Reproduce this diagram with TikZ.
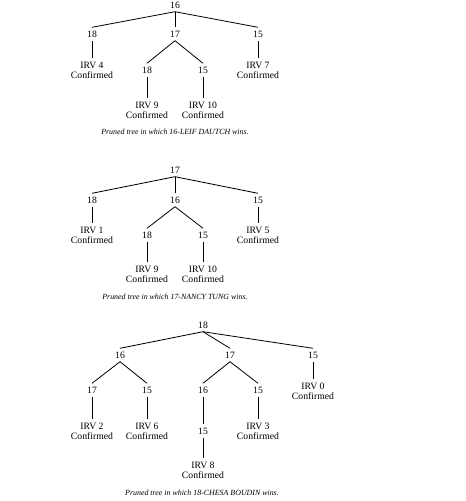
\documentclass[tikz,border=0pt]{standalone}
\usepackage{fontspec}
\setmainfont{Liberation Serif}
\begin{document}
\begin{tikzpicture}[x=1pt,y=-1pt,
  lab/.style={font=\fontsize{9.7}{10}\selectfont, inner xsep=1pt, inner ysep=3.2pt, text height=6.6pt, text depth=0pt},
  leaf/.style={font=\fontsize{9.7}{10}\selectfont, align=center, inner xsep=1pt, inner ysep=3.2pt},
  captxt/.style={font=\fontsize{7.9}{9}\selectfont\itshape, inner sep=0pt},
  conn/.style={line width=0.8pt}]
\useasboundingbox (0,0) rectangle (466,501);
% ---------- Tree 1 ----------
\node[lab] (t1r) at (175,5) {16};
\node[lab] (t1a) at (92,34) {18};
\node[lab] (t1b) at (175,34) {17};
\node[lab] (t1c) at (258,34) {15};
\node[leaf] (t1a1) at (92,70) {IRV 4\\Confirmed};
\node[lab] (t1b1) at (147,70) {18};
\node[lab] (t1b2) at (203,70) {15};
\node[leaf] (t1c1) at (258,70) {IRV 7\\Confirmed};
\node[leaf] (t1b11) at (147,110) {IRV 9\\Confirmed};
\node[leaf] (t1b21) at (203,110) {IRV 10\\Confirmed};
\node[captxt] (t1cap) at (175,132) {Pruned tree in which 16-LEIF DAUTCH wins.};
\draw[conn] (t1r.south) -- (t1a.north);
\draw[conn] (t1r.south) -- (t1b.north);
\draw[conn] (t1r.south) -- (t1c.north);
\draw[conn] (t1a.south) -- (t1a1.north);
\draw[conn] (t1b.south) -- (t1b1.north);
\draw[conn] (t1b.south) -- (t1b2.north);
\draw[conn] (t1c.south) -- (t1c1.north);
\draw[conn] (t1b1.south) -- (t1b11.north);
\draw[conn] (t1b2.south) -- (t1b21.north);
% ---------- Tree 2 ----------
\node[lab] (t2r) at (175,170) {17};
\node[lab] (t2a) at (92,200) {18};
\node[lab] (t2b) at (175,200) {16};
\node[lab] (t2c) at (258,200) {15};
\node[leaf] (t2a1) at (92,235) {IRV 1\\Confirmed};
\node[lab] (t2b1) at (147,235) {18};
\node[lab] (t2b2) at (203,235) {15};
\node[leaf] (t2c1) at (258,235) {IRV 5\\Confirmed};
\node[leaf] (t2b11) at (147,274) {IRV 9\\Confirmed};
\node[leaf] (t2b21) at (203,274) {IRV 10\\Confirmed};
\node[captxt] (t2cap) at (175,297) {Pruned tree in which 17-NANCY TUNG wins.};
\draw[conn] (t2r.south) -- (t2a.north);
\draw[conn] (t2r.south) -- (t2b.north);
\draw[conn] (t2r.south) -- (t2c.north);
\draw[conn] (t2a.south) -- (t2a1.north);
\draw[conn] (t2b.south) -- (t2b1.north);
\draw[conn] (t2b.south) -- (t2b2.north);
\draw[conn] (t2c.south) -- (t2c1.north);
\draw[conn] (t2b1.south) -- (t2b11.north);
\draw[conn] (t2b2.south) -- (t2b21.north);
% ---------- Tree 3 ----------
\node[lab] (t3r) at (203,325) {18};
\node[lab] (t3a) at (120,355) {16};
\node[lab] (t3b) at (230,355) {17};
\node[lab] (t3c) at (313,355) {15};
\node[leaf] (t3c1) at (313,391) {IRV 0\\Confirmed};
\node[lab] (t3a1) at (92,390) {17};
\node[lab] (t3a2) at (147,390) {15};
\node[lab] (t3b1) at (203,390) {16};
\node[lab] (t3b2) at (258,390) {15};
\node[leaf] (t3a11) at (92,431) {IRV 2\\Confirmed};
\node[leaf] (t3a21) at (147,431) {IRV 6\\Confirmed};
\node[lab] (t3b11) at (203,431) {15};
\node[leaf] (t3b21) at (258,431) {IRV 3\\Confirmed};
\node[leaf] (t3b111) at (203,470) {IRV 8\\Confirmed};
\node[captxt] (t3cap) at (202,493) {Pruned tree in which 18-CHESA BOUDIN wins.};
\draw[conn] (t3r.south) -- (t3a.north);
\draw[conn] (t3r.south) -- (t3b.north);
\draw[conn] (t3r.south) -- (t3c.north);
\draw[conn] (t3c.south) -- (t3c1.north);
\draw[conn] (t3a.south) -- (t3a1.north);
\draw[conn] (t3a.south) -- (t3a2.north);
\draw[conn] (t3b.south) -- (t3b1.north);
\draw[conn] (t3b.south) -- (t3b2.north);
\draw[conn] (t3a1.south) -- (t3a11.north);
\draw[conn] (t3a2.south) -- (t3a21.north);
\draw[conn] (t3b1.south) -- (t3b11.north);
\draw[conn] (t3b2.south) -- (t3b21.north);
\draw[conn] (t3b11.south) -- (t3b111.north);
\end{tikzpicture}
\end{document}
